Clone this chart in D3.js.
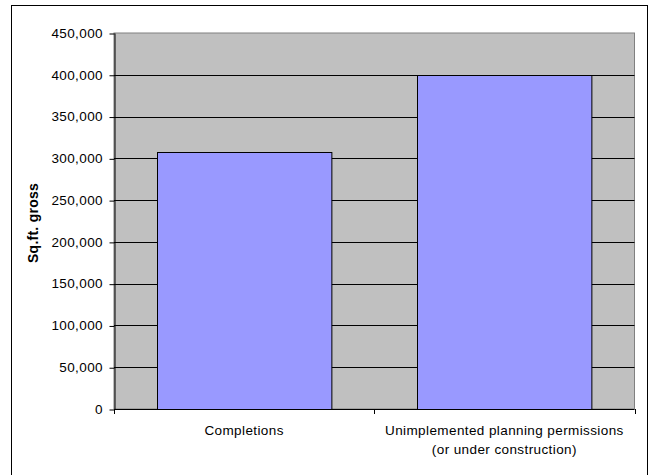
<!DOCTYPE html>
<html>
<head>
<meta charset="utf-8">
<script src="https://cdn.jsdelivr.net/npm/d3@7"></script>
<style>
  html, body { margin: 0; padding: 0; background: #fff; }
  svg { display: block; }
  text { font-family: "Liberation Sans", Arial, sans-serif; fill: #000; }
</style>
</head>
<body>
<svg id="chart" width="652" height="475"></svg>
<script>
// Floorspace figures (sq.ft. gross)
const categories = [
  ["Completions"],
  ["Unimplemented planning permissions", "(or under construction)"]
];
const categoryKeys = ["Completions", "Unimplemented"];
const values = [307000, 400000];
const yTicks = [0, 50000, 100000, 150000, 200000, 250000, 300000, 350000, 400000, 450000];
const yTitle = "Sq.ft. gross";

const svg = d3.select("#chart");
const plot = { left: 114, right: 634.5, top: 33, bottom: 409 };

// Outer chart frame
svg.append("rect")
  .attr("x", 11.5).attr("y", 5.5)
  .attr("width", 636).attr("height", 480)
  .attr("fill", "#fff").attr("stroke", "#000").attr("stroke-width", 1);

const x = d3.scaleBand()
  .domain(categoryKeys)
  .range([plot.left, plot.right])
  .paddingInner(0.33)
  .paddingOuter(0.165);

const y = d3.scaleLinear()
  .domain([0, 450000])
  .range([plot.bottom, plot.top]);

// Plot area background
svg.append("rect")
  .attr("x", plot.left).attr("y", plot.top)
  .attr("width", plot.right - plot.left).attr("height", plot.bottom - plot.top)
  .attr("fill", "#c0c0c0")
  .attr("stroke", "#808080").attr("stroke-width", 1);

// Horizontal gridlines
svg.append("g")
  .selectAll("line")
  .data(yTicks.filter(v => v > 0 && v < 450000))
  .join("line")
  .attr("x1", plot.left).attr("x2", plot.right)
  .attr("y1", d => Math.round(y(d)) + 0.5)
  .attr("y2", d => Math.round(y(d)) + 0.5)
  .attr("stroke", "#000").attr("stroke-width", 1);

// Bars
svg.append("g")
  .selectAll("rect")
  .data(values)
  .join("rect")
  .attr("x", (d, i) => Math.round(x(categoryKeys[i])) + 0.5)
  .attr("y", d => Math.round(y(d)) + 0.5)
  .attr("width", x.bandwidth())
  .attr("height", d => Math.round(y(0)) - Math.round(y(d)))
  .attr("fill", "#9999ff")
  .attr("stroke", "#000").attr("stroke-width", 1);

// Y axis
const fmt = d3.format(",");
const yAxis = svg.append("g")
  .attr("transform", `translate(${plot.left + 0.5},0)`)
  .call(d3.axisLeft(y).tickValues(yTicks).tickFormat(fmt).tickSize(5).tickPadding(5).tickSizeOuter(0));
yAxis.selectAll(".tick line").attr("stroke", "#000")
  .attr("transform", "translate(0,0.5)");
yAxis.select(".domain").attr("stroke", "#000");
yAxis.selectAll(".tick text")
  .attr("font-size", 13.5)
  .style("letter-spacing", "0.4px")
  .attr("x", -11.5)
  .attr("fill", "#000");

// X axis line and category dividers
const xAxisG = svg.append("g");
xAxisG.append("line")
  .attr("x1", plot.left).attr("x2", plot.right)
  .attr("y1", plot.bottom + 0.5).attr("y2", plot.bottom + 0.5)
  .attr("stroke", "#000");
xAxisG.selectAll(".edge")
  .data([0, 1, 2])
  .join("line")
  .attr("class", "edge")
  .attr("x1", i => Math.round(plot.left + i * x.step()) + 0.5)
  .attr("x2", i => Math.round(plot.left + i * x.step()) + 0.5)
  .attr("y1", plot.bottom).attr("y2", plot.bottom + 5)
  .attr("stroke", "#000");

// Category labels
categories.forEach((lines, i) => {
  const cx = x(categoryKeys[i]) + x.bandwidth() / 2;
  const t = svg.append("text")
    .attr("text-anchor", "middle")
    .attr("font-size", 13.5)
    .style("letter-spacing", "0.4px");
  lines.forEach((ln, j) => {
    t.append("tspan")
      .attr("x", cx)
      .attr("y", 435 + j * 18.5)
      .text(ln);
  });
});

// Y axis title
svg.append("text")
  .attr("transform", `translate(38,223) rotate(-90)`)
  .attr("text-anchor", "middle")
  .attr("font-size", 14)
  .attr("font-weight", "bold")
  .style("letter-spacing", "0.25px")
  .text(yTitle);
</script>
</body>
</html>
